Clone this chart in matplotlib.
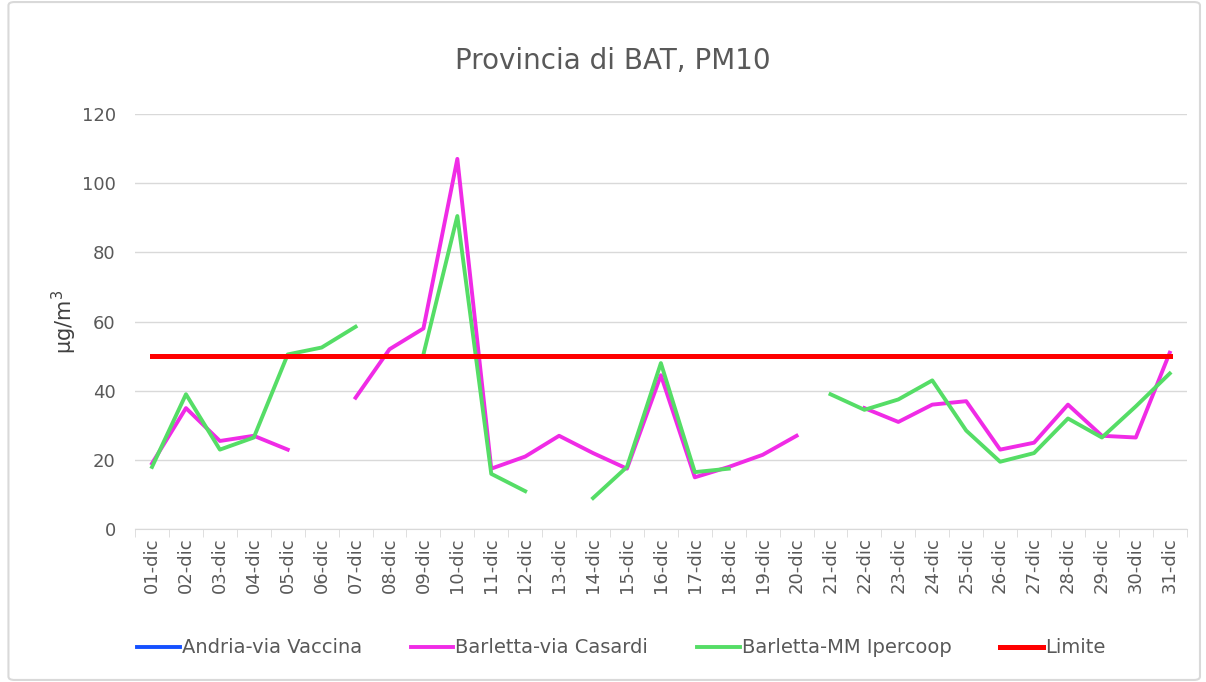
import numpy as np
import matplotlib.pyplot as plt
from matplotlib.patches import FancyBboxPatch

# days of December
days = ["%02d-dic" % d for d in range(1, 32)]

nan = np.nan
# Andria-via Vaccina: no data this month
andria = [nan] * 31
barletta_casardi = [19, 35, 25.5, 27, 23, nan, 38, 52, 58, 107, 17.5, 21,
                    27, 22, 17.5, 44.5, 15, 18, 21.5, 27, nan, 35, 31, 36,
                    37, 23, 25, 36, 27, 26.5, 51]
barletta_mm = [18, 39, 23, 26.5, 50.5, 52.5, 58.5, nan, 50.5, 90.5, 16, 11,
               nan, 9, 18, 48, 16.5, 17.5, nan, nan, 39, 34.5, 37.5, 43,
               28.5, 19.5, 22, 32, 26.5, 35.5, 45]
limite = [50] * 31

gray = "#595959"

fig = plt.figure(figsize=(12.06, 6.82), dpi=100)
ax = fig.add_axes([0.112, 0.224, 0.872, 0.609])

x = np.arange(1, 32)
ax.plot(x, andria, color="#1550FF", lw=2.8, label="Andria-via Vaccina")
ax.plot(x, barletta_casardi, color="#F02BE6", lw=2.8, label="Barletta-via Casardi")
ax.plot(x, barletta_mm, color="#55DD66", lw=2.8, label="Barletta-MM Ipercoop")
ax.plot(x, limite, color="#FF0000", lw=3.6, label="Limite")

ax.set_xlim(0.5, 31.5)
ax.set_ylim(0, 120)
ax.set_yticks(range(0, 121, 20))
ax.set_xticks(x)
ax.set_xticklabels(days, rotation=90)
ax.set_xticks(np.arange(0.5, 32, 1), minor=True)
ax.tick_params(axis='x', which='major', length=0, pad=6, labelsize=13, labelcolor=gray)
ax.tick_params(axis='x', which='minor', length=6, color="#d9d9d9")
ax.tick_params(axis='y', length=0, pad=14, labelsize=13, labelcolor=gray)
ax.grid(axis='y', color="#d9d9d9", lw=1)
ax.set_axisbelow(True)
for s in ['top', 'right', 'left']:
    ax.spines[s].set_visible(False)
ax.spines['bottom'].set_color("#d9d9d9")

ax.set_ylabel("μg/m$^3$", fontsize=15, color="#404040", labelpad=2)
fig.text(0.508, 0.91, "Provincia di BAT, PM10", ha='center', va='center',
         fontsize=20, color=gray)

fig.legend(loc='center', bbox_to_anchor=(0.515, 0.05), ncol=4, frameon=False,
           fontsize=14, labelcolor=gray, handlelength=2.2, handletextpad=0.1,
           columnspacing=2.5)

fig.patches.append(FancyBboxPatch((0.007, 0.003), 0.988, 0.994,
                                  boxstyle="round,pad=0,rounding_size=0.005",
                                  transform=fig.transFigure, fill=False,
                                  ec="#d9d9d9", lw=1.5))

fig.savefig("out.png", dpi=100)
